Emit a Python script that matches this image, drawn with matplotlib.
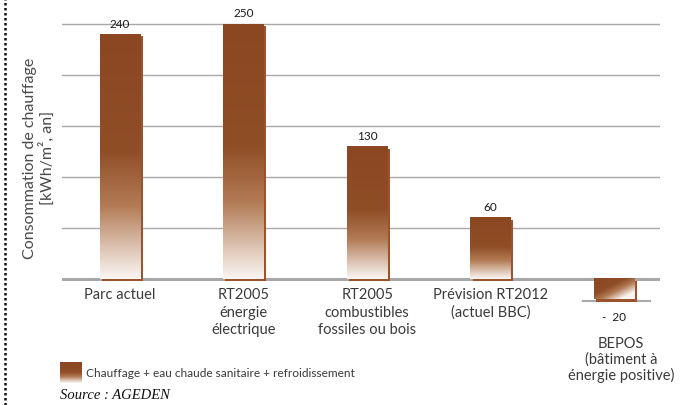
import numpy as np
import matplotlib.pyplot as plt
from matplotlib.colors import LinearSegmentedColormap
from matplotlib.lines import Line2D
from matplotlib.patches import Rectangle

# -------- DATA --------
categories = ["Parc actuel",
              "RT2005\nénergie\nélectrique",
              "RT2005\ncombustibles\nfossiles ou bois",
              "Prévision RT2012\n(actuel BBC)",
              "BEPOS\n(bâtiment à\nénergie positive)"]
values = [240, 250, 130, 60, -20]
value_labels = ["240", "250", "130", "60", "-  20"]
legend_label = "Chauffage + eau chaude sanitaire + refroidissement"
ylabel = "Consommation de chauffage\n[kWh/m², an]"
source = "Source : AGEDEN"
gridlines = [50, 100, 150, 200, 250]

# -------- STYLE --------
FONT = "Lato"
DARK = "#8A4722"
SHADOW = "#9C532C"
GRID = "#A8A8A8"
TEXT = "#3a3a3a"
brown_fade = LinearSegmentedColormap.from_list(
    "brown_fade",
    [(0.0, "#FAF6F3"), (0.12, "#DEC6B5"), (0.3, "#B27B55"),
     (0.52, "#904E27"), (1.0, DARK)])

fig = plt.figure(figsize=(6.85, 4.06), dpi=100)
ax = fig.add_axes([62 / 685, 1 - 305.5 / 406, 598 / 685, 295.8 / 406])
ax.set_xlim(-0.47, 4.37)
ax.set_ylim(-25, 265)
ax.axis("off")

# grid
for g in gridlines:
    ax.axhline(g, color=GRID, lw=1, zorder=1)
ax.axhline(0, color=GRID, lw=2.2, zorder=1)
ax.plot([3.745, 4.29], [-21.5, -21.5], color=GRID, lw=1.5, zorder=1)

w = 0.33
dx, dy = 0.018, 2.2
for i, v in enumerate(values):
    x0 = i - w / 2
    lo, hi = min(0, v), max(0, v)
    # shadow offset right / down
    ax.add_patch(Rectangle((x0 + dx, lo - dy), w, hi - lo, color=SHADOW, lw=0, zorder=2))
    if v >= 0:
        grad = np.linspace(0, 1, 256).reshape(-1, 1)
    else:
        u = np.linspace(0, 1, 128)[None, :]
        t = np.linspace(0, 1, 64)[:, None]
        grad = np.clip(1 - (u * 0.6 + (1 - t) * 0.6), 0, 1)
    ax.imshow(grad, cmap=brown_fade, vmin=0, vmax=1, origin="lower",
              extent=[x0, x0 + w, lo, hi], aspect="auto", zorder=3,
              interpolation="bilinear")

    if v >= 0:
        ax.annotate(value_labels[i], (i, v), xytext=(0, 4), textcoords="offset points",
                    ha="center", va="bottom", fontsize=8.5, family=FONT, color="#1a1a1a")
        ax.annotate(categories[i], (i, 0), xytext=(0, -6), textcoords="offset points",
                    ha="center", va="top", fontsize=10.5, family=FONT,
                    color=TEXT, linespacing=1.3)
    else:
        ax.annotate(value_labels[i], (i, v), xytext=(0, -8), textcoords="offset points",
                    ha="center", va="top", fontsize=8.5, family=FONT, color="#1a1a1a")
        ax.annotate(categories[i], (i, v), xytext=(5, -26), textcoords="offset points",
                    ha="center", va="top", fontsize=10.5, family=FONT,
                    color=TEXT, linespacing=1.15)

ax.set_xlim(-0.47, 4.37)
ax.set_ylim(-25, 265)

# y label
fig.text(39 / 685, 1 - 158 / 406, ylabel, rotation=90, ha="center", va="center",
         multialignment="center", fontsize=11.5, family=FONT,
         color="#4a4a4a", linespacing=1.15)

# dotted border on the left
fig.add_artist(Line2D([5 / 685, 5 / 685], [0, 1], color="#111111", lw=1.8,
                      linestyle=(0, (1, 1)), transform=fig.transFigure))

# legend swatch + text
lax = fig.add_axes([60 / 685, 1 - 384 / 406, 22 / 685, 21 / 406])
lax.imshow(np.linspace(0, 1, 64).reshape(-1, 1), cmap=brown_fade, origin="lower",
           aspect="auto", interpolation="bilinear")
lax.axis("off")
fig.text(86 / 685, 1 - 374 / 406, legend_label, ha="left", va="center",
         fontsize=8.6, family=FONT, color=TEXT)

fig.text(60 / 685, 1 - 396 / 406, source, ha="left", va="center",
         fontsize=10.5, family="Liberation Serif", style="italic", color="#111111")

fig.savefig("out.png", dpi=100)
